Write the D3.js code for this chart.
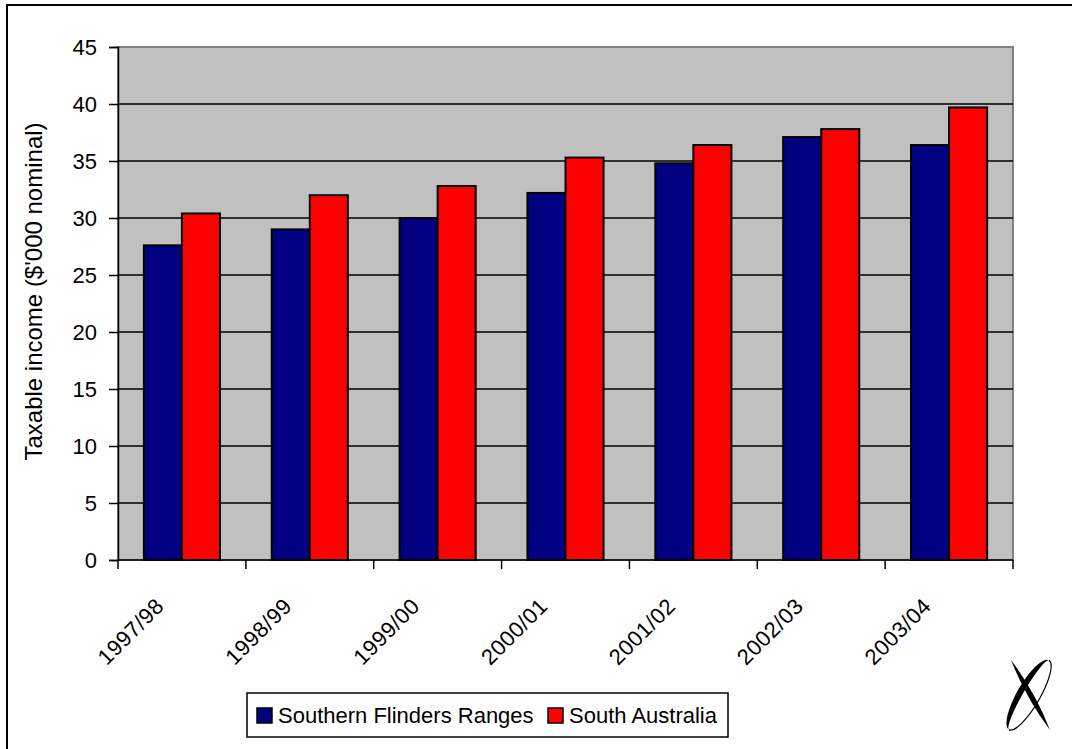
<!DOCTYPE html>
<html>
<head>
<meta charset="utf-8">
<script src="https://cdn.jsdelivr.net/npm/d3@7"></script>
<style>
  body { margin: 0; background: #fff; }
  svg { display: block; font-family: "Liberation Sans", Arial, sans-serif; }
</style>
</head>
<body>
<div id="chart"></div>
<script>
var years = ['1997/98', '1998/99', '1999/00', '2000/01', '2001/02', '2002/03', '2003/04'];
var flinders = [27.6, 29.0, 30.0, 32.2, 34.8, 37.1, 36.4];
var southAus = [30.4, 32.0, 32.8, 35.3, 36.4, 37.8, 39.7];
var seriesNames = ['Southern Flinders Ranges', 'South Australia'];
var seriesColors = ['#000080', '#ff0000'];
var yTicks = [0, 5, 10, 15, 20, 25, 30, 35, 40, 45];

var width = 1072, height = 749;
var margin = { top: 47, right: 59, bottom: 189, left: 118 };

var svg = d3.select('#chart').append('svg')
  .attr('width', width)
  .attr('height', height);

// outer frame (runs off the right/bottom edge)
svg.append('rect')
  .attr('x', 7).attr('y', 5)
  .attr('width', width + 20).attr('height', height + 20)
  .attr('fill', 'none').attr('stroke', '#000').attr('stroke-width', 2);

var x = d3.scaleBand()
  .domain(years)
  .range([margin.left, width - margin.right]);

var x1 = d3.scaleBand()
  .domain([0, 1])
  .range([0, x.bandwidth()])
  .paddingOuter(0.68)
  .paddingInner(0);

var y = d3.scaleLinear()
  .domain([0, 45])
  .range([height - margin.bottom, margin.top]);

// plot area
svg.append('rect')
  .attr('x', margin.left).attr('y', margin.top)
  .attr('width', x.range()[1] - margin.left)
  .attr('height', y(0) - margin.top)
  .attr('fill', '#c0c0c0')
  .attr('stroke', '#808080').attr('stroke-width', 2);

// gridlines
svg.append('g')
  .selectAll('line')
  .data(yTicks.filter(function (d) { return d > 0 && d < 45; }))
  .join('line')
  .attr('x1', margin.left).attr('x2', x.range()[1])
  .attr('y1', function (d) { return y(d); })
  .attr('y2', function (d) { return y(d); })
  .attr('stroke', '#000').attr('stroke-width', 1.5);

// bars
var rows = years.map(function (yr, i) {
  return { year: yr, values: [flinders[i], southAus[i]] };
});

var group = svg.append('g')
  .selectAll('g')
  .data(rows)
  .join('g')
  .attr('transform', function (d) { return 'translate(' + x(d.year) + ',0)'; });

group.selectAll('rect')
  .data(function (d) { return d.values.map(function (v, k) { return { k: k, v: v }; }); })
  .join('rect')
  .attr('x', function (d) { return x1(d.k); })
  .attr('y', function (d) { return y(d.v); })
  .attr('width', x1.bandwidth())
  .attr('height', function (d) { return y(0) - y(d.v); })
  .attr('fill', function (d) { return seriesColors[d.k]; })
  .attr('stroke', '#000')
  .attr('stroke-width', 2);

// y axis
var yAxis = svg.append('g')
  .attr('transform', 'translate(' + margin.left + ',0)')
  .call(d3.axisLeft(y).tickValues(yTicks).tickSize(9).tickPadding(12));
yAxis.select('.domain').attr('stroke', '#000').attr('stroke-width', 1.5);
yAxis.selectAll('.tick line').attr('stroke', '#000').attr('stroke-width', 1.5);
yAxis.selectAll('.tick text')
  .attr('font-size', 22)
  .attr('fill', '#000')
  .style('font-family', '"Liberation Sans", Arial, sans-serif');

// x axis: ticks at category boundaries
var boundaries = years.map(function (d) { return x(d); }).concat([x.range()[1]]);
var xAxis = svg.append('g');
xAxis.append('line')
  .attr('x1', margin.left).attr('x2', x.range()[1])
  .attr('y1', y(0)).attr('y2', y(0))
  .attr('stroke', '#000').attr('stroke-width', 1.5);
xAxis.selectAll('line.tk')
  .data(boundaries)
  .join('line')
  .attr('class', 'tk')
  .attr('x1', function (d) { return d; }).attr('x2', function (d) { return d; })
  .attr('y1', y(0)).attr('y2', y(0) + 9)
  .attr('stroke', '#000').attr('stroke-width', 1.5);

xAxis.selectAll('text')
  .data(years)
  .join('text')
  .attr('transform', function (d) {
    return 'translate(' + (x(d) + x.bandwidth() / 2 - 22) + ',' + (y(0) + 42) + ') rotate(-45)';
  })
  .attr('text-anchor', 'end')
  .attr('dy', '0.35em')
  .attr('font-size', 22)
  .attr('letter-spacing', 0.5)
  .attr('fill', '#000')
  .text(function (d) { return d; });

// y axis title
svg.append('text')
  .attr('transform', 'translate(42,' + ((margin.top + y(0)) / 2 - 12) + ') rotate(-90)')
  .attr('text-anchor', 'middle')
  .attr('font-size', 24)
  .attr('fill', '#000')
  .text("Taxable income ($'000 nominal)");

// legend
var legend = svg.append('g').attr('transform', 'translate(247,693)');
legend.append('rect')
  .attr('width', 481).attr('height', 44)
  .attr('fill', '#fff').attr('stroke', '#000').attr('stroke-width', 1.5);

var legendX = [10, 301];
var item = legend.selectAll('g.item')
  .data(seriesNames)
  .join('g')
  .attr('class', 'item')
  .attr('transform', function (d, i) { return 'translate(' + legendX[i] + ',0)'; });
item.append('rect')
  .attr('x', 0).attr('y', 15)
  .attr('width', 15).attr('height', 15)
  .attr('fill', function (d, i) { return seriesColors[i]; })
  .attr('stroke', '#000').attr('stroke-width', 1.5);
item.append('text')
  .attr('x', 21).attr('y', 22)
  .attr('dy', '0.35em')
  .attr('font-size', 22)
  .attr('fill', '#000')
  .text(function (d) { return d; });

// logo mark (bottom right)
var logo = svg.append('g').attr('transform', 'translate(1029,695)');
var ring = logo.append('g').attr('transform', 'rotate(30)');
ring.append('path')
  .attr('d', 'M0,-40 A12,40 0 0,0 0,40 A6,40 0 0,1 0,-40 Z')
  .attr('fill', '#000');
ring.append('path')
  .attr('d', 'M0,-40 A11,40 0 0,1 0,40')
  .attr('fill', 'none').attr('stroke', '#000').attr('stroke-width', 1.2);
logo.append('path')
  .attr('d', 'M-18,-35 Q6,-3 21,35 Q-3,3 -18,-35 Z')
  .attr('fill', '#000');
</script>
</body>
</html>
